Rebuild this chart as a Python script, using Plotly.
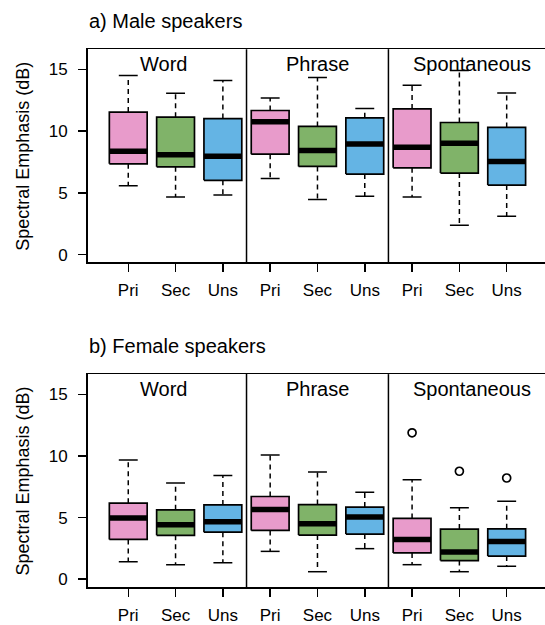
import plotly.graph_objects as go

# ---------------- data ----------------
categories = ["Pri", "Sec", "Uns"]
conditions = ["Word", "Phrase", "Spontaneous"]
colors = ["#E89BCB", "#80B369", "#64B4E4"]

# order: Word Pri/Sec/Uns, Phrase Pri/Sec/Uns, Spontaneous Pri/Sec/Uns
male_lower = [5.58, 4.67, 4.83, 6.17, 4.46, 4.72, 4.67, 2.37, 3.11]
male_q1 = [7.35, 7.11, 6.01, 8.13, 7.14, 6.52, 7.03, 6.60, 5.63]
male_median = [8.37, 8.08, 7.96, 10.76, 8.42, 8.96, 8.69, 9.01, 7.54]
male_q3 = [11.54, 11.13, 11.02, 11.67, 10.38, 11.08, 11.80, 10.70, 10.30]
male_upper = [14.51, 13.06, 14.11, 12.69, 14.35, 11.83, 13.71, 14.92, 13.09]
male_outliers = [[], [], [], [], [], [], [], [], []]

female_lower = [1.42, 1.18, 1.34, 2.26, 0.61, 2.48, 1.18, 0.61, 1.05]
female_q1 = [3.23, 3.56, 3.82, 3.96, 3.58, 3.66, 2.13, 1.51, 1.88]
female_median = [4.96, 4.42, 4.66, 5.66, 4.50, 5.04, 3.23, 2.21, 3.07]
female_q3 = [6.17, 5.63, 6.03, 6.71, 6.06, 5.85, 4.93, 4.07, 4.09]
female_upper = [9.67, 7.81, 8.41, 10.07, 8.70, 7.06, 8.08, 5.79, 6.33]
female_outliers = [[], [], [], [], [], [], [11.88], [8.76], [8.21]]

panel_titles = ["a) Male speakers", "b) Female speakers"]
condition_label_x = [1.74, 5.0, 8.26]
y_ticks = [0, 5, 10, 15]

FONT = "Liberation Sans, Arial, Helvetica, sans-serif"
BOXW = 0.4   # half box width
CAPW = 0.2   # half cap width

fig = go.Figure()

panels = [
    dict(lower=male_lower, q1=male_q1, med=male_median, q3=male_q3, upper=male_upper,
         out=male_outliers, xa="x", ya="y"),
    dict(lower=female_lower, q1=female_q1, med=female_median, q3=female_q3, upper=female_upper,
         out=female_outliers, xa="x2", ya="y2"),
]

n = len(conditions) * len(categories)
positions = list(range(1, n + 1))

for p in panels:
    xa, ya = p["xa"], p["ya"]
    # whiskers (dashed)
    wx, wy = [], []
    for i, pos in enumerate(positions):
        wx += [pos, pos, None, pos, pos, None]
        wy += [p["q3"][i], p["upper"][i], None, p["q1"][i], p["lower"][i], None]
    fig.add_trace(go.Scatter(x=wx, y=wy, mode="lines", xaxis=xa, yaxis=ya,
                             line=dict(color="black", width=1.5, dash="5px,4px"),
                             hoverinfo="skip", showlegend=False))
    # caps
    cx, cy = [], []
    for i, pos in enumerate(positions):
        cx += [pos - CAPW, pos + CAPW, None, pos - CAPW, pos + CAPW, None]
        cy += [p["upper"][i], p["upper"][i], None, p["lower"][i], p["lower"][i], None]
    fig.add_trace(go.Scatter(x=cx, y=cy, mode="lines", xaxis=xa, yaxis=ya,
                             line=dict(color="black", width=1.5),
                             hoverinfo="skip", showlegend=False))
    # boxes, one trace per category colour
    for c, col in enumerate(colors):
        bx, by = [], []
        for i, pos in enumerate(positions):
            if i % len(categories) != c:
                continue
            bx += [pos - BOXW, pos + BOXW, pos + BOXW, pos - BOXW, pos - BOXW, None]
            by += [p["q1"][i], p["q1"][i], p["q3"][i], p["q3"][i], p["q1"][i], None]
        fig.add_trace(go.Scatter(x=bx, y=by, mode="lines", fill="toself", fillcolor=col,
                                 xaxis=xa, yaxis=ya,
                                 line=dict(color="black", width=1.7),
                                 hoverinfo="skip", showlegend=False))
    # medians
    mx, my = [], []
    for i, pos in enumerate(positions):
        mx += [pos - BOXW, pos + BOXW, None]
        my += [p["med"][i], p["med"][i], None]
    fig.add_trace(go.Scatter(x=mx, y=my, mode="lines", xaxis=xa, yaxis=ya,
                             line=dict(color="black", width=5.5),
                             hoverinfo="skip", showlegend=False))
    # outliers
    ox, oy = [], []
    for i, pos in enumerate(positions):
        for v in p["out"][i]:
            ox.append(pos)
            oy.append(v)
    if ox:
        fig.add_trace(go.Scatter(x=ox, y=oy, mode="markers", xaxis=xa, yaxis=ya,
                                 marker=dict(symbol="circle-open", size=8,
                                             color="black", line=dict(width=1.7)),
                                 hoverinfo="skip", showlegend=False))
    # separators between conditions
    for k in range(1, len(conditions)):
        sep = k * len(categories) + 0.5
        fig.add_shape(type="line", x0=sep, x1=sep, y0=0, y1=1,
                      xref=xa, yref=ya + " domain",
                      line=dict(color="black", width=1.5))
    # condition labels
    for k, cond in enumerate(conditions):
        fig.add_annotation(x=condition_label_x[k], y=15.45, xref=xa, yref=ya,
                           text=cond, showarrow=False, xanchor="center", yanchor="middle",
                           font=dict(family=FONT, size=20, color="black"))

axis_common = dict(
    range=[0.14, 9.81],
    domain=[0.1607, 1.0],
    tickmode="array",
    tickvals=positions,
    ticktext=categories * len(conditions),
    ticks="outside", ticklen=8, tickwidth=1.5, tickcolor="black",
    ticklabelstandoff=4,
    showline=True, linecolor="black", linewidth=1.5, mirror=True,
    showgrid=False, zeroline=False,
    tickfont=dict(family=FONT, size=17, color="black"),
    fixedrange=True,
)
yaxis_common = dict(
    range=[-0.64, 16.64],
    tickmode="array", tickvals=y_ticks,
    ticks="outside", ticklen=8, tickwidth=1.5, tickcolor="black",
    ticklabelstandoff=7,
    showline=True, linecolor="black", linewidth=1.5, mirror=False,
    showgrid=False, zeroline=False,
    tickfont=dict(family=FONT, size=17, color="black"),
    fixedrange=True,
)

fig.update_layout(
    width=545, height=625,
    margin=dict(l=0, r=0, t=0, b=0),
    paper_bgcolor="white", plot_bgcolor="white",
    font=dict(family=FONT, color="black"),
    xaxis=dict(**axis_common, anchor="y"),
    yaxis=dict(**yaxis_common, domain=[0.5787, 0.9211], anchor="x"),
    xaxis2=dict(**axis_common, anchor="y2"),
    yaxis2=dict(**yaxis_common, domain=[0.0576, 0.3995], anchor="x2"),
    showlegend=False,
)

# panel titles
for t, yy in zip(panel_titles, [0.9664, 0.4453]):
    fig.add_annotation(x=0.1602, y=yy, xref="paper", yref="paper", text=t,
                       showarrow=False, xanchor="left", yanchor="middle",
                       font=dict(family=FONT, size=20, color="black"))

# y-axis titles
for yy in [(0.5787 + 0.9211) / 2, (0.0576 + 0.3995) / 2]:
    fig.add_annotation(x=0.042, y=yy, xref="paper", yref="paper",
                       text="Spectral Emphasis (dB)", textangle=-90,
                       showarrow=False, xanchor="center", yanchor="middle",
                       font=dict(family=FONT, size=18, color="black"))

fig.write_html(
    "out.html",
    config={"displayModeBar": False, "staticPlot": True},
    post_script="document.body.style.margin='0px';document.body.style.padding='0px';"
                "document.body.style.overflow='hidden';",
)
